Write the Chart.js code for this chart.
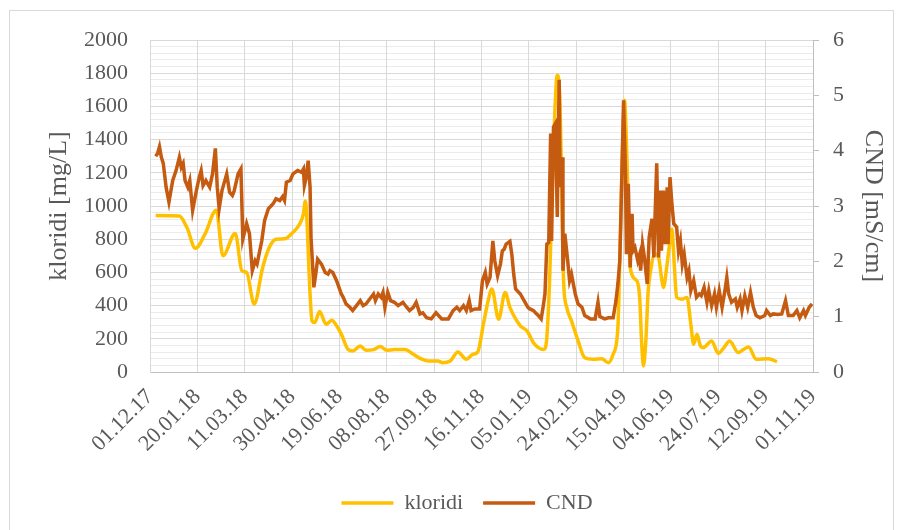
<!DOCTYPE html>
<html lang="hr">
<head>
<meta charset="UTF-8">
<title>kloridi i CND</title>
<script src="https://cdn.jsdelivr.net/npm/chart.js"></script>
<style>
  body { margin: 0; background: #fff; }
  #frame { position: absolute; left: 9px; top: 10px; width: 883px; height: 540px; border: 1px solid #d9d9d9; }
  #wrap { position: absolute; left: 0; top: 0; width: 904px; height: 530px; }
</style>
</head>
<body>
<div id="frame"></div>
<div id="wrap"><canvas id="chart" width="904" height="530"></canvas></div>
<script>
// days counted from 01.12.17
const startDate = Date.UTC(2017, 11, 1);

const klDays = [6, 31, 39, 48, 58, 70, 77, 90, 97, 102, 110, 119, 126, 133, 142, 151, 158, 162, 164, 169,
  171, 174, 179, 186, 192, 197, 202, 209, 214, 222, 228, 236, 243, 250, 258, 269, 278, 287, 294, 304,
  309, 317, 325, 334, 341, 346, 352, 357, 361, 368, 375, 380, 391, 398, 405, 410, 416, 419, 422, 424.5,
  427.5, 430, 432.5, 434.5, 436.5, 440, 445, 452, 459, 468, 477, 484, 489, 494, 496, 498.5, 501, 503.5, 507, 514,
  517, 519, 521, 523.5, 526, 528, 533, 537, 540, 542, 546, 549, 551, 553.5, 556, 562, 567, 571, 574, 577.5,
  581, 584, 593, 600, 606, 612, 621, 627, 632, 640, 653, 662];
const klValues = [943, 940, 870, 745, 830, 975, 700, 835, 610, 600, 409, 630, 751, 800, 802, 842, 892, 953, 1030, 469,
  308, 298, 364, 288, 312, 278, 228, 137, 127, 157, 131, 135, 153, 131, 135, 135, 107, 77, 66, 66,
  56, 66, 121, 77, 107, 120, 288, 429, 500, 318, 479, 389, 278, 248, 175, 147, 135, 210, 570, 1074,
  1577, 1788, 1678, 1174, 570, 389, 308, 187, 86, 77, 80, 56, 107, 268, 671, 1275, 1637, 1295, 630, 550,
  449, 187, 36, 187, 489, 590, 711, 691, 570, 509, 651, 791, 862, 651, 449, 439, 449, 288, 167, 228,
  160, 147, 187, 112, 147, 187, 117, 137, 151, 77, 80, 62];

const cndDays = [6, 8, 10, 12, 14, 17, 20, 24, 27.5, 31, 33, 35, 37, 40, 42, 45, 49, 52, 54, 56, 59, 63, 66, 69, 71,
  73, 76, 78, 81, 84, 87, 89, 93, 96, 98, 102, 105, 108, 111, 113, 118, 121, 125, 130, 133, 137, 140, 142, 144,
  148, 151, 156, 160, 162, 163, 165, 167, 169, 170, 173, 175, 177, 181, 185, 188, 190, 193, 197, 202, 204, 207,
  211, 214, 218, 222, 225, 228, 232, 236, 238, 241, 244, 246, 248, 251, 254, 258, 262, 267, 271, 274, 278, 281,
  285, 288, 292, 297, 302, 308, 315, 320, 324, 327, 331, 334, 337, 339, 343, 348, 351, 354, 356, 359, 362, 364,
  367, 370, 372, 374, 376, 380, 382, 384, 386, 391, 396, 399, 401, 405, 407, 410, 413, 415, 417, 419, 421, 423,
  424, 426, 428, 430, 432, 433, 435, 436, 438, 441, 443, 445, 449, 452, 456, 459, 465, 470, 473, 475, 480, 484,
  489, 492, 494, 496, 497, 500, 502, 503, 505, 507, 509, 510, 512, 515, 517, 518, 520, 522, 525, 527, 530, 532,
  533, 535, 537, 539, 540, 542, 544, 546, 547, 549, 551, 553, 556, 558, 560, 562, 564, 567, 569, 571, 574, 577,
  580, 582, 585, 588, 590, 593, 596, 598, 601, 604, 607, 609, 611, 614, 618, 620, 623, 625, 628, 631, 634, 637,
  640, 644, 649, 651, 655, 658, 663, 667, 671, 674, 679, 683, 686, 690, 692, 696, 699];
const cndValues = [3.90, 3.95, 4.07, 3.88, 3.77, 3.34, 3.07, 3.46, 3.64, 3.88, 3.70, 3.77, 3.46, 3.34, 3.46, 2.92, 3.28, 3.52, 3.64, 3.37, 3.46, 3.34, 3.58, 4.04, 3.34,
  2.95, 3.28, 3.40, 3.58, 3.25, 3.19, 3.28, 3.58, 3.67, 2.40, 2.68, 2.50, 1.83, 2.01, 1.95, 2.37, 2.74, 2.95, 3.04, 3.13, 3.10, 3.17, 3.10, 3.43,
  3.46, 3.58, 3.64, 3.61, 3.67, 3.37, 3.52, 3.82, 3.34, 2.43, 1.53, 1.77, 2.04, 1.95, 1.80, 1.77, 1.83, 1.80, 1.65, 1.41, 1.35, 1.23,
  1.17, 1.11, 1.20, 1.29, 1.20, 1.23, 1.32, 1.41, 1.29, 1.41, 1.35, 1.44, 1.17, 1.44, 1.29, 1.26, 1.20, 1.26, 1.17, 1.11, 1.17, 1.26,
  1.05, 1.07, 0.98, 0.96, 1.07, 0.96, 0.96, 1.11, 1.17, 1.11, 1.20, 1.11, 1.29, 1.11, 1.14, 1.14, 1.65, 1.80, 1.59, 1.71, 2.37, 2.01,
  1.74, 1.95, 2.19, 2.22, 2.31, 2.36, 2.13, 1.77, 1.50, 1.41, 1.26, 1.17, 1.14, 1.11, 1.07, 1.02, 0.96, 1.17, 1.41, 2.31, 2.34, 4.31,
  2.37, 4.43, 4.49, 2.80, 5.28, 3.34, 3.88, 1.83, 2.50, 2.01, 1.65, 1.77, 1.41, 1.23, 1.17, 1.02, 0.96, 0.96, 1.26, 1.00, 0.96, 0.98,
  0.98, 1.29, 1.59, 2.01, 2.68, 4.91, 3.58, 2.13, 3.40, 1.89, 2.86, 2.19, 2.25, 2.01, 2.13, 1.83, 2.31, 2.07, 1.59, 2.43, 2.77, 2.07,
  2.68, 3.77, 2.07, 3.28, 2.19, 3.28, 2.31, 3.34, 2.31, 3.52, 3.04, 2.68, 2.62, 2.19, 2.37, 1.95, 2.13, 1.71, 1.83, 1.47, 1.65, 1.35,
  1.41, 1.38, 1.53, 1.26, 1.47, 1.20, 1.41, 1.17, 1.47, 1.17, 1.47, 1.71, 1.41, 1.26, 1.32, 1.17, 1.32, 1.11, 1.38, 1.17, 1.44, 1.17,
  1.02, 0.98, 1.02, 1.11, 1.02, 1.05, 1.04, 1.05, 1.29, 1.02, 1.02, 1.11, 0.98, 1.11, 1.02, 1.17, 1.23];

const serif = "'Liberation Serif', 'Times New Roman', serif";
const txt = '#595959';

function dayLabel(d) {
  const dt = new Date(startDate + d * 86400000);
  const p = n => String(n).padStart(2, '0');
  return p(dt.getUTCDate()) + '.' + p(dt.getUTCMonth() + 1) + '.' + p(dt.getUTCFullYear() % 100);
}

new Chart(document.getElementById('chart'), {
  type: 'line',
  data: {
    datasets: [{
      label: 'kloridi',
      data: klDays.map((d, i) => ({ x: d, y: klValues[i] })),
      borderColor: '#FFC000',
      backgroundColor: '#FFC000',
      borderWidth: 3.5,
      pointRadius: 0,
      cubicInterpolationMode: 'monotone',
      yAxisID: 'y',
      order: 1
    }, {
      label: 'CND',
      data: cndDays.map((d, i) => ({ x: d, y: cndValues[i] })),
      borderColor: '#C55A11',
      backgroundColor: '#C55A11',
      borderWidth: 3.5,
      pointRadius: 0,
      tension: 0,
      yAxisID: 'y1',
      order: 0
    }]
  },
  options: {
    responsive: false,
    animation: false,
    devicePixelRatio: 1,
    layout: { padding: { left: 30, right: 0, top: 40, bottom: 6 } },
    plugins: {
      tooltip: { enabled: false },
      legend: {
        position: 'bottom',
        labels: {
          usePointStyle: true,
          pointStyle: 'line',
          pointStyleWidth: 52,
          padding: 20,
          color: txt,
          font: { family: serif, size: 22 },
          sort: (a, b) => a.datasetIndex - b.datasetIndex
        }
      }
    },
    scales: {
      x: {
        type: 'linear',
        min: 0,
        max: 700,
        ticks: {
          stepSize: 50,
          minRotation: 45,
          maxRotation: 45,
          padding: 12,
          color: txt,
          font: { family: serif, size: 22 },
          callback: v => dayLabel(v)
        },
        grid: { color: '#d9d9d9', drawTicks: false },
        border: { color: '#bfbfbf' },
        afterFit: s => { s.height = 100; }
      },
      yMinor: {
        position: 'left',
        min: 0,
        max: 2000,
        ticks: { display: false, stepSize: 40 },
        grid: { color: '#ebebeb', drawTicks: false, z: -2 },
        border: { display: false },
        afterFit: s => { s.width = 0; }
      },
      y: {
        position: 'left',
        min: 0,
        max: 2000,
        ticks: {
          stepSize: 200, padding: 22, color: txt, font: { family: serif, size: 22 },
          callback: v => String(v)
        },
        grid: { color: '#d9d9d9', drawTicks: false },
        border: { color: '#d9d9d9' },
        title: {
          display: true,
          text: 'kloridi [mg/L]',
          color: txt,
          font: { family: serif, size: 26 },
          padding: { top: 14, bottom: 0 }
        },
        afterFit: s => { s.width = 120; }
      },
      y1: {
        position: 'right',
        min: 0,
        max: 6,
        ticks: { stepSize: 1, padding: 14, color: txt, font: { family: serif, size: 22 } },
        grid: { drawOnChartArea: false, drawTicks: true, tickLength: 6, color: '#bfbfbf' },
        border: { color: '#bfbfbf' },
        title: {
          display: true,
          text: 'CND [mS/cm]',
          color: txt,
          font: { family: serif, size: 26 },
          padding: { top: 16, bottom: 0 }
        },
        afterFit: s => { s.width = 91; }
      }
    }
  }
});
</script>
</body>
</html>
